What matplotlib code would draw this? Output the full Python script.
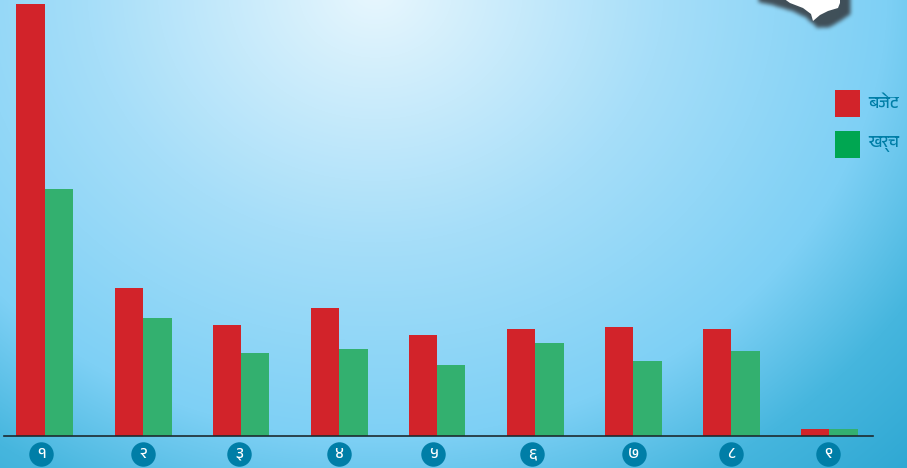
import matplotlib
matplotlib.use('Agg')
import matplotlib.pyplot as plt
from matplotlib.path import Path
import numpy as np

# Data
wards = ['१', '२', '३', '४', '५', '६', '७', '८', '९']
budget = [432, 148, 111, 128, 101, 107, 109, 107, 7]
expense = [247, 118, 83, 87, 71, 93, 75, 85, 7]
series_names = ['बजेट', 'खर्च']

RED = '#d2232a'
GREEN = '#33b06f'
TEAL = '#007ea7'
FONT = ['Anek Devanagari', 'Mukta', 'DejaVu Sans']

W, H = 907, 468


def box_blur(a, n, passes=3):
    # simple blur, good enough for the drop shadow
    k = np.ones(n) / n
    pad = n * passes
    a = np.pad(a, pad, mode='edge')
    for _ in range(passes):
        a = np.apply_along_axis(lambda v: np.convolve(v, k, mode='same'), 0, a)
        a = np.apply_along_axis(lambda v: np.convolve(v, k, mode='same'), 1, a)
    return a[pad:-pad, pad:-pad]


fig = plt.figure(figsize=(W / 100, H / 100), dpi=100)

# Background gradient
bg = fig.add_axes([0, 0, 1, 1], zorder=0)
yy, xx = np.mgrid[0:H, 0:W]
r = np.hypot((xx - 375) / 640, (yy + 10) / 560)
stops = [0, 0.12, 0.45, 0.8, 1.0, 1.3]
cols = np.array([[232, 247, 254], [214, 240, 252], [166, 222, 249], [126, 208, 245], [70, 182, 222], [34, 160, 205]]) / 255
img = np.dstack([np.interp(r, stops, cols[:, i]) for i in range(3)])
bg.imshow(img, extent=[0, W, H, 0], aspect='auto')

# Map outline at the top right, with soft shadow
white_part = [(783, -20), (783, -2), (790, 3), (803, 8), (811, 14), (813, 21), (820, 15),
              (828, 11), (838, 8), (840, 3), (840, -20)]
shadow_part = [(756, -20), (756, 0), (770, 3), (790, 9), (803, 15), (816, 26), (828, 25),
               (840, 18), (849, 12), (849, -20)]
pts = np.column_stack([xx.ravel(), yy.ravel()])
mask = Path(shadow_part).contains_points(pts).reshape(H, W).astype(float)
mask = box_blur(mask, 4) * 0.85
shadow = np.zeros((H, W, 4))
shadow[..., :3] = [0.2, 0.22, 0.24]
shadow[..., 3] = mask
bg.imshow(shadow, extent=[0, W, H, 0], aspect='auto')
bg.fill([p[0] for p in white_part], [p[1] for p in white_part], color='white', lw=0)
bg.set_xlim(0, W)
bg.set_ylim(H, 0)
bg.axis('off')

# Bars
ax = fig.add_axes([0, 0, 1, 1], zorder=1)
ax.patch.set_alpha(0)
x = np.arange(len(wards))
bar_w = 28.5 / 98.0
ax.bar(x - bar_w / 2, budget, bar_w, color=RED)
ax.bar(x + bar_w / 2, expense, bar_w, color=GREEN)
# one x unit = 98 px, first group centred on pixel 45; one y unit = 1 px, baseline at pixel 436
ax.set_xlim(-45 / 98.0, (W - 45) / 98.0)
ax.set_ylim(-(H - 436), 436)
ax.axis('off')
ax.plot([-41 / 98.0, (873 - 45) / 98.0], [0, 0], color='#1d2a30', lw=1.2, clip_on=False)

# Ward numbers in circles
label_shift = [-0.04, 0.005, -0.02, 0, -0.04, -0.03, 0.01, 0, -0.01]
for i, w in enumerate(wards):
    ax.scatter(i + label_shift[i], -18, s=310, color=TEAL, lw=0, clip_on=False)
    ax.text(i + label_shift[i], -18, w, ha='center', va='center', color='white', fontsize=11.5,
            fontweight='bold', family=FONT)

# Legend
for name, color, top in zip(series_names, ['#d2232a', '#00a651'], [90, 131]):
    bg.add_patch(plt.Rectangle((835, top), 25, 27, fc=color, ec='none'))
    bg.text(868, top + 13, name, ha='left', va='center', color=TEAL, fontsize=12,
            fontweight='bold', family=FONT)

fig.savefig('out.png', dpi=100)
